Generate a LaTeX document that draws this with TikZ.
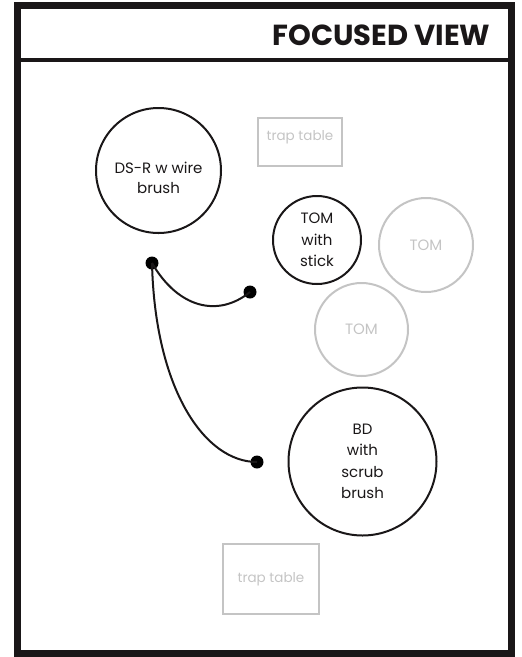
\documentclass[tikz,border=0pt]{standalone}
\usepackage{fontspec}
\setmainfont{Poppins}
\usepackage{tikz}
\usetikzlibrary{positioning, calc}
\definecolor{fvblack}{HTML}{1A1718}
\definecolor{fvgrey}{HTML}{C4C4C4}

\begin{document}
\begin{tikzpicture}[x=1pt, y=-1pt,
      drum/.style={circle, draw=fvblack, line width=2pt, align=center, font=\fontsize{15}{21.5}\selectfont, text=fvblack, inner sep=0pt},
      ghost/.style={circle, draw=fvgrey, line width=2pt, align=center, font=\fontsize{15}{21.5}\selectfont, text=fvgrey, inner sep=0pt},
      trap/.style={rectangle, draw=fvgrey, line width=2pt, font=\fontsize{13.5}{16}\selectfont, text=fvgrey, inner sep=0pt},
      knob/.style={circle, fill=black, inner sep=0pt, minimum size=13pt},
      wire/.style={draw=fvblack, line width=2pt}
    ]
      \useasboundingbox (0,0) rectangle (522,657);
      % frame and header
      \draw[fvblack, line width=7pt] (17,5) rectangle (511,653.5);
      \draw[fvblack, line width=4pt] (17,60) -- (511,60);
      \node[anchor=base east, font=\fontsize{29}{32}\selectfont\bfseries, text=fvblack] (title) at (494,45) {FOCUSED VIEW};

      % kit
      \node[drum, minimum size=125pt, font=\fontsize{15}{20}\selectfont] (dsr) at (158.5,170.5) {\rule{0pt}{26pt}DS-R w wire\\brush};
      \node[trap, minimum width=84pt, minimum height=48pt, text depth=14pt] (traptop) at (300,142) {trap table};
      \node[drum, minimum size=88pt] (tomstick) at (317,240) {TOM\\with\\stick};
      \node[ghost, minimum size=94pt] (tomright) at (426,245) {TOM};
      \node[ghost, minimum size=93pt] (tommid) at (361.5,329.5) {TOM};
      \node[drum, minimum size=148pt] (bd) at (362.5,461.5) {BD\\with\\scrub\\brush};
      \node[trap, minimum width=96pt, minimum height=70pt] (trapbottom) at (271,579) {trap table};

      % player reach
      \node[knob] (hand) at (152,263) {};
      \node[knob] (reachtom) at (250,292) {};
      \node[knob] (reachbd) at (257,462) {};
      \draw[wire] (hand.center) .. controls (178,308) and (218,318) .. (reachtom.center);
      \draw[wire] (hand.center) .. controls (155,390) and (205,462) .. (reachbd.center);
    \end{tikzpicture}
\end{document}
